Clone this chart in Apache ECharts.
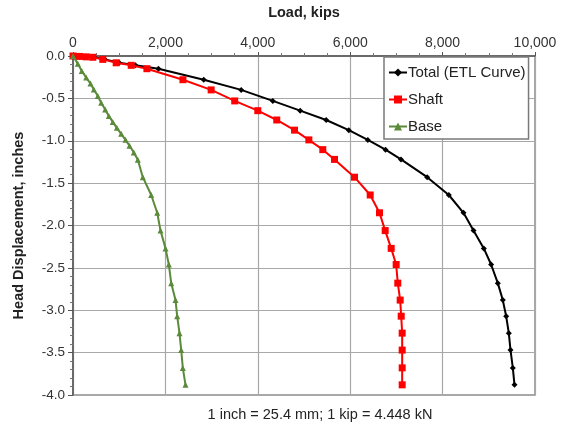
<!DOCTYPE html>
<html>
<head>
<meta charset="utf-8">
<script src="https://cdn.jsdelivr.net/npm/echarts@6/dist/echarts.min.js"></script>
<style>
  html, body { margin: 0; padding: 0; background: #fff; }
  #chart { width: 561px; height: 425px; }
</style>
</head>
<body>
<div id="chart"></div>
<script>
// Load (kips) vs head displacement (inches)
const totalLoad = [0, 150, 300, 460, 690, 1000, 1350, 1850, 2830, 3640, 4325, 4917, 5480, 5970, 6381, 6764, 7100, 7666, 8135, 8452, 8669, 8892, 9050, 9195, 9303, 9376, 9433, 9470, 9520, 9556];
const totalDisp = [0, -0.005, -0.01, -0.015, -0.04, -0.08, -0.11, -0.15, -0.28, -0.40, -0.53, -0.645, -0.755, -0.875, -0.99, -1.105, -1.22, -1.43, -1.64, -1.85, -2.06, -2.27, -2.46, -2.68, -2.88, -3.07, -3.27, -3.47, -3.68, -3.88];

const shaftLoad = [0, 140, 285, 430, 645, 935, 1260, 1600, 2380, 2990, 3500, 4000, 4410, 4795, 5105, 5407, 5660, 6093, 6433, 6634, 6757, 6887, 6995, 7030, 7082, 7104, 7125, 7125, 7125, 7125];
const shaftDisp = [0, -0.005, -0.01, -0.015, -0.04, -0.08, -0.11, -0.15, -0.28, -0.40, -0.53, -0.645, -0.755, -0.875, -0.99, -1.105, -1.22, -1.43, -1.64, -1.85, -2.06, -2.27, -2.46, -2.68, -2.88, -3.07, -3.27, -3.47, -3.68, -3.88];

const baseLoad = [0, 104, 190, 286, 379, 450, 537, 610, 697, 775, 861, 948, 1043, 1136, 1223, 1316, 1403, 1511, 1693, 1823, 1894, 2002, 2074, 2126, 2219, 2255, 2305, 2342, 2377, 2435];
const baseDisp = [0, -0.09, -0.176, -0.255, -0.325, -0.395, -0.473, -0.551, -0.63, -0.707, -0.778, -0.848, -0.918, -0.989, -1.059, -1.138, -1.223, -1.43, -1.64, -1.85, -2.06, -2.27, -2.46, -2.68, -2.88, -3.07, -3.27, -3.47, -3.68, -3.88];

const seriesNames = ['Total (ETL Curve)', 'Shaft', 'Base'];
const xAxisTitle = 'Load, kips';
const yAxisTitle = 'Head Displacement, inches';
const footnote = '1 inch = 25.4 mm; 1 kip = 4.448 kN';

const pairs = (xs, ys) => xs.map((x, i) => [x, ys[i]]);
const font = 'Liberation Sans, Arial, sans-serif';
const textColor = '#333';

const chart = echarts.init(document.getElementById('chart'));
chart.setOption({
  animation: false,
  backgroundColor: '#fff',
  textStyle: { fontFamily: font },
  grid: {
    left: 73, right: 26, top: 54, bottom: 30,
    show: true, borderColor: '#8c8c8c', borderWidth: 1.5, backgroundColor: 'transparent'
  },
  title: {
    text: footnote, left: 315, textAlign: 'center', top: 402,
    textStyle: { fontFamily: font, fontSize: 14.5, fontWeight: 'normal', color: '#222' }
  },
  legend: {
    data: seriesNames,
    orient: 'vertical',
    left: 384, top: 57,
    backgroundColor: '#fff',
    borderColor: '#7a7a7a', borderWidth: 1.5,
    padding: [8, 3, 5, 4],
    itemWidth: 18, itemHeight: 10, itemGap: 12,
    textStyle: { fontFamily: font, fontSize: 15, color: '#222', padding: [0, 0, 0, -4] }
  },
  xAxis: {
    type: 'value', position: 'top',
    min: 0, max: 10000, interval: 2000,
    name: xAxisTitle, nameLocation: 'middle', nameGap: 36,
    nameTextStyle: { fontFamily: font, fontSize: 14.5, fontWeight: 'bold', color: '#222' },
    axisLine: { show: true, lineStyle: { color: '#555', width: 1.5 } },
    axisTick: { show: true, length: 4, inside: false, lineStyle: { color: '#555' } },
    minorTick: { show: true, splitNumber: 4, length: 3, lineStyle: { color: '#777' } },
    splitLine: { show: true, lineStyle: { color: '#a8a8a8', width: 1.2 } },
    axisLabel: {
      fontFamily: font, fontSize: 14, color: textColor, margin: 6,
      formatter: v => v.toLocaleString('en-US')
    }
  },
  yAxis: {
    type: 'value',
    min: -4, max: 0, interval: 0.5,
    name: yAxisTitle, nameLocation: 'middle', nameGap: 47, nameRotate: 90,
    nameTextStyle: { fontFamily: font, fontSize: 14.5, fontWeight: 'bold', color: '#222' },
    axisLine: { show: true, lineStyle: { color: '#555', width: 1.5 } },
    axisTick: { show: true, length: 5, lineStyle: { color: '#555' } },
    minorTick: { show: true, splitNumber: 5, length: 3, lineStyle: { color: '#777' } },
    splitLine: { show: true, lineStyle: { color: '#a8a8a8', width: 1.2 } },
    axisLabel: {
      fontFamily: font, fontSize: 13.5, color: textColor, margin: 8,
      formatter: v => v.toFixed(1)
    }
  },
  series: [
    {
      name: seriesNames[0], type: 'line', z: 2,
      data: pairs(totalLoad, totalDisp),
      symbol: 'diamond', symbolSize: 6,
      lineStyle: { color: '#000', width: 2 },
      itemStyle: { color: '#000' }
    },
    {
      name: seriesNames[1], type: 'line', z: 3,
      data: pairs(shaftLoad, shaftDisp),
      symbol: 'rect', symbolSize: 7,
      lineStyle: { color: '#ff0000', width: 2 },
      itemStyle: { color: '#ff0000' }
    },
    {
      name: seriesNames[2], type: 'line', z: 4,
      data: pairs(baseLoad, baseDisp),
      symbol: 'triangle', symbolSize: 6,
      lineStyle: { color: '#5a8a3a', width: 2 },
      itemStyle: { color: '#5a8a3a' }
    }
  ]
});
</script>
</body>
</html>
